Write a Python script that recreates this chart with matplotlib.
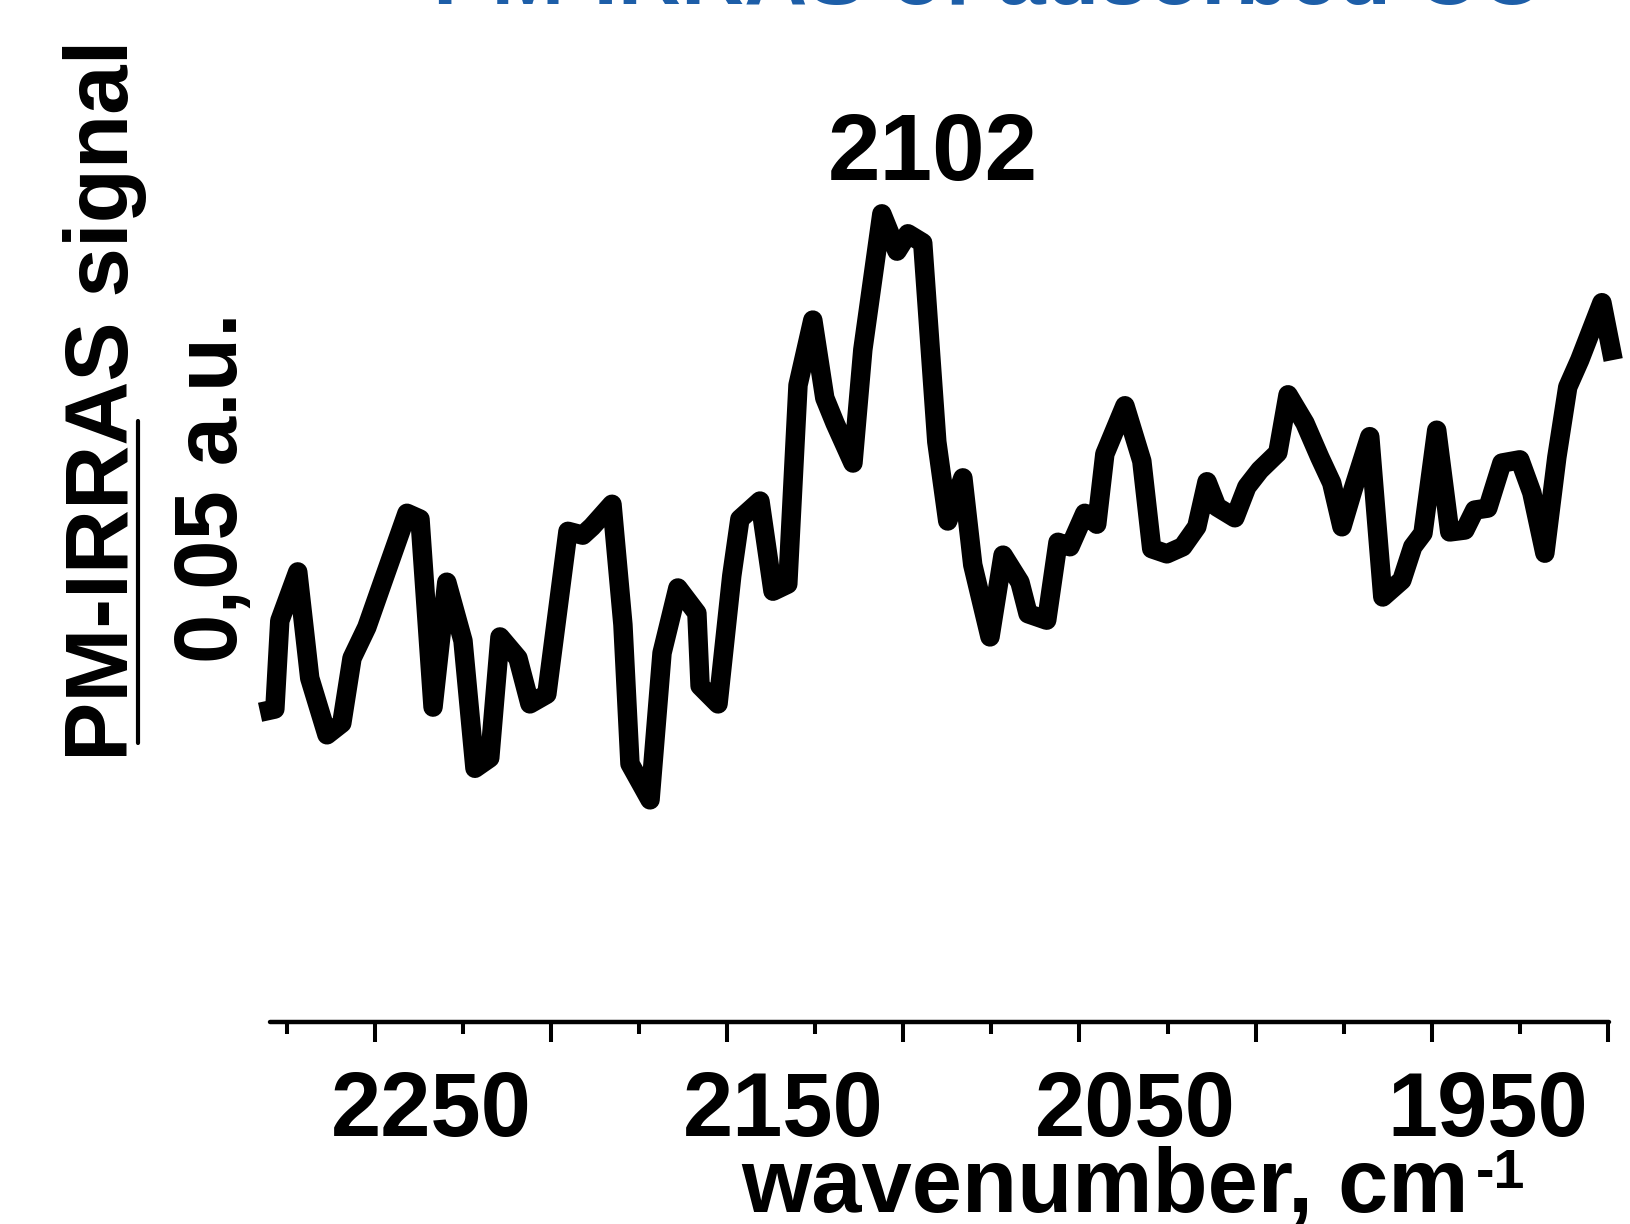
import matplotlib
matplotlib.use("Agg")
import matplotlib.pyplot as plt
from matplotlib.transforms import ScaledTranslation
import numpy as np

plt.rcParams['font.family'] = ['Liberation Sans', 'DejaVu Sans']
plt.rcParams['font.weight'] = 'bold'

# PM-IRRAS spectrum, wavenumber (cm-1) and signal (a.u.)
wavenumber = [2282.6, 2278.4, 2277.0, 2271.9, 2268.5, 2263.6, 2259.4, 2256.5, 2252.3, 2248.0,
              2240.9, 2237.2, 2233.5, 2229.6, 2225.0, 2221.6, 2217.4, 2214.5, 2209.4, 2206.0,
              2201.2, 2195.2, 2191.0, 2188.4, 2182.7, 2179.6, 2177.6, 2171.9, 2168.5, 2164.0,
              2158.6, 2157.7, 2152.6, 2148.7, 2146.4, 2140.7, 2137.0, 2132.8, 2129.9, 2125.7,
              2122.3, 2119.4, 2114.3, 2111.5, 2106.1, 2101.8, 2098.7, 2094.5, 2090.5, 2087.4,
              2083.1, 2080.3, 2075.4, 2071.7, 2066.9, 2064.6, 2059.3, 2056.1, 2052.7, 2048.5,
              2045.1, 2042.8, 2037.1, 2032.3, 2029.5, 2025.2, 2020.7, 2016.7, 2013.8, 2011.0,
              2005.9, 2002.5, 1998.8, 1993.7, 1990.8, 1986.0, 1981.8, 1978.4, 1975.5, 1972.4,
              1967.6, 1963.9, 1958.5, 1955.4, 1952.5, 1948.6, 1944.9, 1940.6, 1937.8, 1934.1,
              1930.1, 1925.0, 1921.6, 1917.9, 1914.5, 1911.4, 1908.0, 1901.7, 1898.5]
signal = [0.0481, 0.0486, 0.0623, 0.0699, 0.0534, 0.0446, 0.0464, 0.0565, 0.0613, 0.0680,
          0.0790, 0.0781, 0.0489, 0.0683, 0.0592, 0.0394, 0.0410, 0.0598, 0.0565, 0.0494,
          0.0509, 0.0762, 0.0756, 0.0769, 0.0804, 0.0617, 0.0401, 0.0345, 0.0573, 0.0674,
          0.0635, 0.0522, 0.0494, 0.0693, 0.0781, 0.0809, 0.0669, 0.0680, 0.0989, 0.1090,
          0.0969, 0.0930, 0.0868, 0.1044, 0.1255, 0.1197, 0.1224, 0.1210, 0.0901, 0.0778,
          0.0845, 0.0710, 0.0598, 0.0725, 0.0683, 0.0634, 0.0624, 0.0745, 0.0738, 0.0790,
          0.0773, 0.0882, 0.0957, 0.0871, 0.0735, 0.0727, 0.0738, 0.0769, 0.0839, 0.0800,
          0.0783, 0.0831, 0.0857, 0.0884, 0.0974, 0.0930, 0.0877, 0.0837, 0.0769, 0.0826,
          0.0909, 0.0660, 0.0686, 0.0738, 0.0759, 0.0919, 0.0761, 0.0764, 0.0795, 0.0798,
          0.0868, 0.0873, 0.0822, 0.0728, 0.0877, 0.0986, 0.1028, 0.1117, 0.1028]

major_ticks = [2250, 2200, 2150, 2100, 2050, 2000, 1950, 1900]
minor_ticks = [2275, 2225, 2175, 2125, 2075, 2025, 1975, 1925]
tick_labels = ['2250', '', '2150', '', '2050', '', '1950', '']
peak_pos = 2102
peak_signal = 0.1255
scale_bar = 0.05  # a.u.

fig = plt.figure(figsize=(16.3, 12.24), dpi=100)
ax = fig.add_axes([0.1656, 0.165, 0.8215, 0.835])

ax.plot(wavenumber, signal, color='black', lw=14, solid_joinstyle='round',
        solid_capstyle='butt', clip_on=False)

ax.set_xlim(2279.8, 1899.7)
ax.set_ylim(0, 0.1587)

for side in ['top', 'right', 'left']:
    ax.spines[side].set_visible(False)
ax.spines['bottom'].set_linewidth(3.2)
ax.spines['bottom'].set_capstyle('round')
ax.set_yticks([])

ax.set_xticks(major_ticks)
ax.set_xticklabels(tick_labels, fontsize=65, fontweight='bold')
ax.set_xticks(minor_ticks, minor=True)
ax.tick_params(axis='x', which='major', length=14.5, width=2.9, pad=20)
ax.tick_params(axis='x', which='minor', length=8.5, width=2.9)
# labels sit a bit to the right of their ticks
shift = ScaledTranslation(0.56, 0, fig.dpi_scale_trans)
for lab in ax.get_xticklabels():
    lab.set_transform(lab.get_transform() + shift)

fig.text(741 / 1630, 1 - 1212 / 1224, 'wavenumber, cm', fontsize=65,
         fontweight='bold', ha='left', va='baseline')
fig.text(1476 / 1630, 1 - 1188 / 1224, '-1', fontsize=40,
         fontweight='bold', ha='left', va='baseline')

# scale bar on the left: 0.05 a.u.
bar_x = 2317.3
ax.plot([bar_x, bar_x], [0.0433, 0.0433 + scale_bar], color='black', lw=3,
        solid_capstyle='round', clip_on=False)

fig.text(128 / 1630, 1 - 400 / 1224, 'PM-IRRAS signal', fontsize=64,
         fontweight='bold', rotation=90, ha='center', va='baseline',
         rotation_mode='anchor')
fig.text(237 / 1630, 1 - 488 / 1224, '0,05 a.u.', fontsize=64,
         fontweight='bold', rotation=90, ha='center', va='baseline',
         rotation_mode='anchor')

ax.annotate(str(peak_pos), xy=(peak_pos, peak_signal), xytext=(26, 24),
            textcoords='offset points', fontsize=68, fontweight='bold',
            ha='center', va='baseline', annotation_clip=False)

# heading above the plot, mostly off the top edge
fig.text(990 / 1630, 1 - 4 / 1224, 'PM-IRRAS of adsorbed CO',
         fontsize=63, fontweight='bold', color='#1d5ea8', ha='center',
         va='baseline')

fig.savefig('out.png', dpi=100)
